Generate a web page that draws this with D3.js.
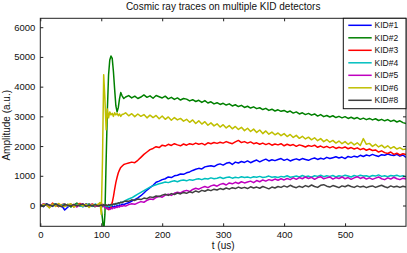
<!DOCTYPE html>
<html>
<head>
<meta charset="utf-8">
<script src="https://cdn.jsdelivr.net/npm/d3@7"></script>
<style>
  html, body { margin: 0; padding: 0; background: #fff; }
  svg { display: block; font-family: "Liberation Sans", Arial, Helvetica, sans-serif; }
</style>
</head>
<body>
<svg id="chart" width="407" height="253"></svg>
<script>
// time axis (us)
const times = [
  0, 5, 10, 15, 20, 25, 30, 35, 40, 45, 50, 55, 60, 65, 70, 75, 80, 85, 90, 95,
  98, 100, 102, 104, 106, 108, 110, 112, 114, 116, 118, 120, 122, 124, 126, 128, 130, 132, 134,
  137,
  140, 145, 150, 155, 160, 165, 170, 175, 180, 185,
  190, 195, 200, 205, 210, 215, 220, 225, 230, 235,
  240, 245, 250, 255, 260, 265, 270, 275, 280, 285,
  290, 295, 300, 305, 310, 315, 320, 325, 330, 335,
  340, 345, 350, 355, 360, 365, 370, 375, 380, 385,
  390, 395, 400, 405, 410, 415, 420, 425, 430, 435,
  440, 445, 450, 455, 460, 465, 470, 475, 480, 485,
  490, 495, 500, 505, 510, 515, 520, 525, 530, 535,
  540, 545, 550, 555, 560, 565, 570, 575, 580, 585,
  590, 595, 600
];

const kid1 = [
  20, -40, 60, 10, -30, 50, -20, 0, -150, -60, 30, -20, 40, 10, -40, 60, 0, -30, 20, 10,
  -20, 30, -40, 10, -30, -60, -40, -80, -50, -70, -30, -60, -20, -40, 0, -30, 20, 0, 40,
  30,
  60, 90, 150, 200, 260, 330, 420, 520, 600, 680,
  780, 820, 870, 900, 960, 940, 1000, 1020, 1060, 1050,
  1100, 1130, 1180, 1220, 1250, 1230, 1300, 1320, 1340, 1310,
  1370, 1400, 1360, 1420, 1450, 1380, 1460, 1430, 1480, 1450,
  1500, 1440, 1490, 1530, 1470, 1520, 1560, 1500, 1540, 1510,
  1550, 1580, 1520, 1560, 1500, 1540, 1570, 1530, 1580, 1550,
  1520, 1570, 1600, 1550, 1590, 1560, 1620, 1580, 1610, 1640,
  1600, 1630, 1580, 1650, 1620, 1660, 1630, 1690, 1650, 1700,
  1670, 1720, 1680, 1650, 1710, 1690, 1730, 1700, 1680, 1720,
  1660, 1700, 1620
];

const kid2 = [
  30, -20, 50, -40, 10, 60, -30, 20, -10, 40, -50, 10, 80, -20, 30, -10, 50, 0, -40, 20,
  0, -100, -450, -900, -300, 1500, 3200, 4400, 4900, 5030, 4950, 4500, 3900, 3350, 3150, 3300, 3600, 3800, 3700,
  3600,
  3650, 3700, 3620, 3680, 3600, 3650, 3720, 3640, 3690, 3610,
  3700, 3660, 3620, 3680, 3590, 3640, 3570, 3620, 3550, 3600,
  3580, 3520, 3560, 3500, 3540, 3470, 3530, 3450, 3490, 3420,
  3460, 3400, 3440, 3380, 3420, 3350, 3390, 3330, 3370, 3300,
  3340, 3280, 3320, 3260, 3290, 3230, 3270, 3200, 3240, 3180,
  3220, 3170, 3200, 3140, 3180, 3110, 3150, 3080, 3120, 3060,
  3100, 3040, 3080, 3010, 3060, 2990, 3030, 2980, 3020, 2960,
  3000, 2950, 2990, 2930, 2970, 2920, 2960, 2900, 2940, 2890,
  2930, 2880, 2920, 2860, 2900, 2850, 2890, 2830, 2870, 2810,
  2850, 2790, 2760
];

const kid3 = [
  -30, 50, 20, -60, 80, 10, -40, 30, 60, -20, 40, -50, 20, 70, -10, 30, -30, 50, 10, -20,
  20, -30, 40, 0, -20, 10, -60, -140, -120, -60, 100, 300, 550, 780, 950, 1100, 1200, 1280, 1320,
  1380,
  1400, 1430, 1460, 1440, 1520, 1620, 1720, 1800, 1880, 1920,
  1980, 1950, 2030, 2000, 2060, 2020, 2080, 2040, 2010, 2070,
  2030, 2080, 2050, 2100, 2060, 2090, 2040, 2110, 2080, 2120,
  2090, 2130, 2100, 2150, 2110, 2080, 2140, 2190, 2120, 2150,
  2100, 2140, 2080, 2110, 2060, 2100, 2050, 2090, 2030, 2070,
  2040, 2080, 2010, 2060, 2020, 2050, 1990, 2040, 2010, 1970,
  2020, 1990, 2030, 1960, 2000, 1950, 1990, 1940, 1980, 1920,
  1960, 1930, 1970, 1910, 1950, 1900, 1940, 1880, 1920, 1860,
  1900, 1850, 1870, 1800, 1840, 1780, 1750, 1800, 1720, 1760,
  1700, 1740, 1720
];

const kid4 = [
  40, -10, 30, -50, 20, 60, -20, 10, 50, -30, 20, -10, 40, 0, -40, 30, 10, -20, 50, 0,
  -10, 20, -20, 10, -30, -10, -40, -20, 0, -10, 20, 30, 50, 40, 70, 60, 90, 110, 100,
  140,
  170, 220, 260, 320, 380, 440, 500, 560, 620, 660,
  700, 730, 760, 790, 770, 810, 830, 800, 840, 860,
  830, 870, 850, 880, 900, 870, 910, 890, 930, 900,
  920, 950, 910, 940, 960, 920, 950, 930, 970, 940,
  960, 930, 970, 950, 980, 940, 960, 990, 950, 970,
  940, 980, 960, 1000, 950, 970, 990, 960, 1010, 970,
  990, 950, 1000, 980, 1020, 970, 1000, 980, 1010, 960,
  1000, 980, 1020, 990, 960, 1010, 980, 1020, 990, 1000,
  970, 1010, 990, 1030, 980, 1000, 970, 1010, 990, 1020,
  980, 1000, 960
];

const kid5 = [
  -20, 60, 10, -40, 30, 0, 50, -30, 20, -10, 40, 10, -50, 30, 60, -20, 0, 40, -30, 10,
  30, -10, 20, -30, -60, -90, -120, -100, -130, -90, -110, -70, -90, -50, -70, -30, -50, -10, -30,
  0,
  -20, 30, 60, 40, 90, 130, 110, 170, 220, 200,
  270, 310, 280, 350, 380, 340, 410, 450, 420, 480,
  510, 470, 540, 580, 550, 600, 640, 600, 660, 690,
  650, 710, 740, 690, 760, 730, 780, 740, 800, 760,
  790, 820, 770, 840, 800, 860, 820, 870, 840, 890,
  850, 900, 860, 910, 870, 930, 880, 940, 900, 960,
  910, 950, 880, 940, 970, 900, 930, 960, 890, 940,
  910, 960, 900, 940, 880, 930, 970, 910, 950, 890,
  930, 880, 920, 960, 900, 870, 930, 890, 950, 900,
  870, 920, 890
];

const kid6 = [
  -60, 40, 20, -80, 50, -30, 70, 0, -40, 30, 60, -50, 10, 40, -20, 50, -70, 30, 0, 40,
  100, -300, 1500, 4400, 3600, 2550, 3250, 2950, 3150, 3050, 3100, 3000, 3120, 3050, 3100, 3020, 3080, 3000, 3060,
  3080,
  3120, 3020, 3090, 2990, 3080, 3000, 3060, 2950, 3040, 2960,
  3030, 2920, 3010, 2900, 2980, 2870, 2960, 2880, 2930, 2840,
  2900, 2800, 2880, 2760, 2850, 2740, 2820, 2700, 2780, 2680,
  2750, 2640, 2720, 2610, 2690, 2580, 2660, 2560, 2630, 2520,
  2600, 2490, 2570, 2460, 2540, 2420, 2510, 2400, 2470, 2380,
  2440, 2350, 2420, 2320, 2390, 2290, 2360, 2260, 2330, 2240,
  2300, 2210, 2280, 2180, 2250, 2150, 2220, 2130, 2190, 2100,
  2170, 2080, 2150, 2060, 2130, 2040, 2110, 2020, 2250, 2060,
  2090, 1990, 2060, 1970, 2030, 1940, 2010, 1920, 1980, 1900,
  1950, 1880, 1900
];

const kid8 = [
  10, -30, 40, 20, -20, 50, 0, -40, 30, 10, -20, 40, -10, 20, 50, -30, 10, -10, 30, -20,
  0, 20, -10, 30, 0, 20, -10, 30, 10, 40, 20, 50, 40, 70, 60, 90, 80, 110, 100,
  130,
  150, 140, 190, 170, 220, 200, 250, 230, 290, 270,
  320, 300, 350, 380, 340, 400, 370, 420, 390, 440,
  410, 460, 430, 490, 450, 510, 480, 530, 500, 550,
  520, 570, 540, 590, 550, 600, 570, 620, 580, 610,
  570, 630, 590, 620, 580, 640, 600, 560, 620, 590,
  640, 610, 660, 620, 680, 630, 600, 650, 610, 670,
  630, 690, 640, 610, 680, 700, 650, 620, 670, 640,
  600, 660, 630, 680, 640, 610, 660, 620, 650, 600,
  640, 660, 610, 650, 680, 630, 600, 660, 620, 650,
  610, 650, 620
];

const seriesNames = ['KID#1', 'KID#2', 'KID#3', 'KID#4', 'KID#5', 'KID#6', 'KID#8'];
const seriesValues = [kid1, kid2, kid3, kid4, kid5, kid6, kid8];
const seriesColors = ['#0000ff', '#008000', '#ff0000', '#00bfbf', '#bf00bf', '#bfbf00', '#404040'];

const xTicks = [0, 100, 200, 300, 400, 500];
const yTicks = [0, 1000, 2000, 3000, 4000, 5000, 6000];

// plot box
const plotLeft = 40.3, plotRight = 406, plotTop = 18.3, plotBottom = 226.3;

const svg = d3.select('#chart');

const x = d3.scaleLinear().domain([0, 600]).range([plotLeft, plotRight]);
const y = d3.scaleLinear().domain([-700, 6300]).range([plotBottom, plotTop]);

svg.append('defs').append('clipPath')
  .attr('id', 'plotClip')
  .append('rect')
  .attr('x', plotLeft).attr('y', plotTop)
  .attr('width', plotRight - plotLeft).attr('height', plotBottom - plotTop);

// traces
const line = d3.line()
  .defined(d => d[1] != null && !isNaN(d[1]))
  .x(d => x(d[0]))
  .y(d => y(d[1]));

const traces = svg.append('g').attr('clip-path', 'url(#plotClip)');
seriesValues.forEach((vals, i) => {
  traces.append('path')
    .datum(times.map((t, j) => [t, vals[j]]))
    .attr('fill', 'none')
    .attr('stroke', seriesColors[i])
    .attr('stroke-width', 1.5)
    .attr('stroke-linejoin', 'round')
    .attr('d', line);
});

// axes, MATLAB style: ticks inside, box all round
const tickLen = 3;
const axisColor = '#222';
const fmt = d3.format('d');

svg.append('g')
  .attr('transform', `translate(0,${plotBottom})`)
  .call(d3.axisBottom(x).tickValues(xTicks).tickFormat(fmt).tickSizeInner(-tickLen).tickSizeOuter(0).tickPadding(5))
  .call(g => g.select('.domain').remove());

svg.append('g')
  .attr('transform', `translate(0,${plotTop})`)
  .call(d3.axisTop(x).tickValues(xTicks).tickSizeInner(-tickLen).tickSizeOuter(0).tickFormat(''))
  .call(g => g.select('.domain').remove());

svg.append('g')
  .attr('transform', `translate(${plotLeft},0)`)
  .call(d3.axisLeft(y).tickValues(yTicks).tickFormat(fmt).tickSizeInner(-tickLen).tickSizeOuter(0).tickPadding(5))
  .call(g => g.select('.domain').remove());

svg.append('g')
  .attr('transform', `translate(${plotRight},0)`)
  .call(d3.axisRight(y).tickValues(yTicks).tickSizeInner(-tickLen).tickSizeOuter(0).tickFormat(''))
  .call(g => g.select('.domain').remove());

svg.selectAll('.tick line').attr('stroke', axisColor);
svg.selectAll('.tick text')
  .attr('fill', '#111')
  .style('font-size', '9.5px')
  .style('font-family', '"Liberation Sans", Arial, Helvetica, sans-serif');

svg.append('rect')
  .attr('x', plotLeft).attr('y', plotTop)
  .attr('width', plotRight - plotLeft).attr('height', plotBottom - plotTop)
  .attr('fill', 'none')
  .attr('stroke', axisColor)
  .attr('stroke-width', 1);

// titles
svg.append('text')
  .attr('x', (plotLeft + plotRight) / 2).attr('y', 9.5)
  .attr('text-anchor', 'middle')
  .style('font-size', '10px')
  .attr('fill', '#111')
  .text('Cosmic ray traces on multiple KID detectors');

svg.append('text')
  .attr('x', (plotLeft + plotRight) / 2).attr('y', 249)
  .attr('text-anchor', 'middle')
  .style('font-size', '10px')
  .attr('fill', '#111')
  .text('t (us)');

svg.append('text')
  .attr('transform', `translate(10,${(plotTop + plotBottom) / 2 + 3}) rotate(-90)`)
  .attr('text-anchor', 'middle')
  .style('font-size', '10px')
  .attr('fill', '#111')
  .text('Amplitude (a.u.)');

// legend
const legend = svg.append('g');
legend.append('rect')
  .attr('x', 343.3).attr('y', plotTop)
  .attr('width', plotRight - 343.3).attr('height', 90.4)
  .attr('fill', '#fff')
  .attr('stroke', '#111')
  .attr('stroke-width', 1);

seriesNames.forEach((name, i) => {
  const ly = 25.3 + i * 12.5;
  legend.append('line')
    .attr('x1', 348.3).attr('x2', 371.7)
    .attr('y1', ly).attr('y2', ly)
    .attr('stroke', seriesColors[i])
    .attr('stroke-width', 1.5);
  legend.append('text')
    .attr('x', 374.5).attr('y', ly + 3)
    .style('font-size', '8.5px')
    .attr('fill', '#111')
    .text(name);
});
</script>
</body>
</html>
